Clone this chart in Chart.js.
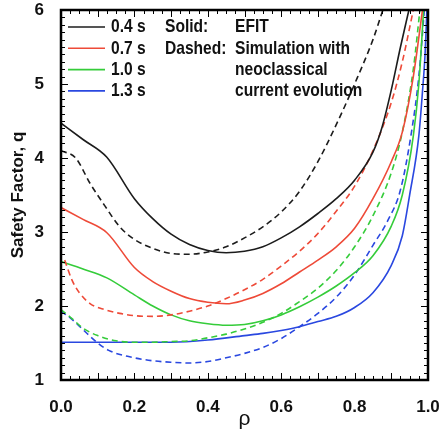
<!DOCTYPE html>
<html>
<head>
<meta charset="utf-8">
<script src="https://cdn.jsdelivr.net/npm/chart.js@4"></script>
<style>
  html, body { margin: 0; padding: 0; background: #fff; }
  canvas { display: block; }
</style>
</head>
<body>
<canvas id="chart" width="443" height="432"></canvas>
<script>
// Safety factor profiles q(rho): solid = EFIT, dashed = simulation
const rhoBlackSolid = [0, 0.06, 0.125, 0.2, 0.25, 0.3, 0.35, 0.4, 0.45, 0.5, 0.55, 0.6, 0.65, 0.7, 0.75, 0.8, 0.85, 0.875, 0.9, 0.925, 0.948];
const qBlackSolid   = [4.47, 4.25, 4.01, 3.45, 3.18, 2.97, 2.83, 2.75, 2.72, 2.74, 2.8, 2.92, 3.07, 3.25, 3.45, 3.7, 4.08, 4.42, 4.92, 5.5, 6.0];

const rhoBlackDashed = [0, 0.04, 0.08, 0.12, 0.16, 0.2, 0.25, 0.3, 0.35, 0.4, 0.45, 0.5, 0.55, 0.6, 0.65, 0.7, 0.75, 0.8, 0.85, 0.877];
const qBlackDashed   = [4.1, 4.0, 3.65, 3.35, 3.07, 2.9, 2.78, 2.71, 2.7, 2.73, 2.8, 2.92, 3.07, 3.27, 3.55, 3.95, 4.45, 5.0, 5.6, 6.0];

const rhoRedSolid = [0, 0.06, 0.125, 0.2, 0.25, 0.3, 0.35, 0.4, 0.45, 0.5, 0.55, 0.6, 0.65, 0.7, 0.75, 0.8, 0.85, 0.9, 0.93, 0.96, 0.985];
const qRedSolid   = [3.33, 3.17, 2.99, 2.52, 2.33, 2.2, 2.1, 2.05, 2.03, 2.08, 2.17, 2.3, 2.46, 2.62, 2.8, 3.05, 3.45, 3.95, 4.35, 5.1, 6.0];

const rhoRedDashed = [0.01, 0.03, 0.05, 0.08, 0.12, 0.16, 0.2, 0.25, 0.3, 0.35, 0.4, 0.45, 0.5, 0.55, 0.6, 0.65, 0.7, 0.75, 0.8, 0.85, 0.9, 0.93, 0.96];
const qRedDashed   = [2.62, 2.35, 2.18, 2.03, 1.95, 1.9, 1.87, 1.86, 1.88, 1.93, 2.0, 2.1, 2.22, 2.36, 2.54, 2.74, 2.98, 3.28, 3.62, 4.1, 4.75, 5.3, 6.0];

const rhoGreenSolid = [0, 0.06, 0.125, 0.2, 0.25, 0.3, 0.35, 0.4, 0.45, 0.5, 0.55, 0.6, 0.65, 0.7, 0.75, 0.8, 0.85, 0.9, 0.93, 0.96, 0.975, 0.988];
const qGreenSolid   = [2.6, 2.5, 2.38, 2.15, 2.0, 1.88, 1.8, 1.76, 1.74, 1.75, 1.8, 1.88, 1.99, 2.12, 2.27, 2.45, 2.68, 3.08, 3.5, 4.3, 5.0, 6.0];

const rhoGreenDashed = [0, 0.03, 0.06, 0.1, 0.15, 0.2, 0.25, 0.3, 0.35, 0.4, 0.45, 0.5, 0.55, 0.6, 0.65, 0.7, 0.75, 0.8, 0.85, 0.9, 0.93, 0.96, 0.978];
const qGreenDashed   = [1.95, 1.83, 1.7, 1.6, 1.53, 1.51, 1.51, 1.52, 1.53, 1.57, 1.62, 1.69, 1.78, 1.9, 2.06, 2.24, 2.48, 2.8, 3.22, 3.8, 4.35, 5.2, 6.0];

const rhoBlueSolid = [0, 0.1, 0.2, 0.3, 0.4, 0.5, 0.55, 0.6, 0.65, 0.7, 0.75, 0.8, 0.85, 0.9, 0.93, 0.95, 0.975, 0.985, 0.992, 0.997];
const qBlueSolid   = [1.51, 1.51, 1.51, 1.51, 1.54, 1.6, 1.63, 1.67, 1.72, 1.79, 1.86, 1.98, 2.18, 2.55, 2.95, 3.5, 4.3, 4.9, 5.4, 6.0];

const rhoBlueDashed = [0, 0.03, 0.06, 0.1, 0.13, 0.19, 0.25, 0.3, 0.35, 0.4, 0.45, 0.5, 0.55, 0.6, 0.65, 0.7, 0.75, 0.8, 0.85, 0.89, 0.925, 0.955, 0.975, 0.99];
const qBlueDashed   = [1.93, 1.82, 1.68, 1.5, 1.4, 1.31, 1.26, 1.24, 1.23, 1.25, 1.3, 1.36, 1.44, 1.56, 1.72, 1.9, 2.12, 2.42, 2.82, 3.15, 3.57, 4.35, 5.1, 6.0];

const timeLabels = ['0.4 s', '0.7 s', '1.0 s', '1.3 s'];
const noteKeys   = ['Solid:', 'Dashed:', '', ''];
const noteTexts  = ['EFIT', 'Simulation with', 'neoclassical', 'current evolution'];
const xTicks = [0, 0.2, 0.4, 0.6, 0.8, 1.0];
const yTicks = [1, 2, 3, 4, 5, 6];

const colors = ['#1c1c1c', '#ee4a38', '#35cc3a', '#2a48e0'];
const FONT = '"Liberation Sans", Arial, sans-serif';

// Zip two arrays into {x, y} points
function toPoints(rho, q) {
  return rho.map((r, i) => ({ x: r, y: q[i] }));
}

function line(rho, q, color, dashed) {
  return {
    data: toPoints(rho, q),
    borderColor: color,
    borderWidth: 1.6,
    borderDash: dashed ? [6, 4] : [],
    pointRadius: 0,
    cubicInterpolationMode: 'monotone',
    fill: false,
  };
}

// Box frame with inward ticks on all four sides
const frameTicks = {
  id: 'frameTicks',
  afterDraw(chart) {
    const { ctx, chartArea: a, scales: { x, y } } = chart;
    ctx.save();
    ctx.strokeStyle = '#000';
    ctx.lineWidth = 1;
    ctx.beginPath();
    for (let i = 0; i <= 40; i++) {
      const px = Math.round(x.getPixelForValue(i / 40)) + 0.5;
      const len = (i % 4 === 0) ? 7 : 4;
      ctx.moveTo(px, a.bottom); ctx.lineTo(px, a.bottom - len);
      ctx.moveTo(px, a.top); ctx.lineTo(px, a.top + len);
    }
    for (let i = 0; i <= 50; i++) {
      const py = Math.round(y.getPixelForValue(1 + i / 10)) + 0.5;
      const len = (i % 10 === 0) ? 7 : 4;
      ctx.moveTo(a.left, py); ctx.lineTo(a.left + len, py);
      ctx.moveTo(a.right, py); ctx.lineTo(a.right - len, py);
    }
    ctx.stroke();
    ctx.lineWidth = 2.5;
    ctx.strokeRect(a.left, a.top, a.right - a.left, a.bottom - a.top);
    ctx.restore();
  }
};

// Legend drawn inside the plot, top-left (text squeezed to look condensed)
const innerLegend = {
  id: 'innerLegend',
  afterDraw(chart) {
    const { ctx, chartArea: a } = chart;
    const squeeze = 0.82;
    ctx.save();
    ctx.font = 'bold 19px ' + FONT;
    ctx.fillStyle = '#111';
    ctx.textBaseline = 'middle';
    const x0 = a.left + 7;
    for (let i = 0; i < 4; i++) {
      const yy = a.top + 17 + i * 21.3;
      ctx.strokeStyle = colors[i];
      ctx.lineWidth = 1.6;
      ctx.beginPath();
      ctx.moveTo(x0, yy); ctx.lineTo(x0 + 37, yy);
      ctx.stroke();
      const cols = [[x0 + 43, timeLabels[i]], [a.left + 104, noteKeys[i]], [a.left + 174, noteTexts[i]]];
      cols.forEach(([tx, txt]) => {
        ctx.save();
        ctx.translate(tx, yy);
        ctx.scale(squeeze, 1);
        ctx.fillText(txt, 0, 0);
        ctx.restore();
      });
    }
    ctx.restore();
  }
};

const tickFont = { family: FONT, size: 17, weight: 'bold' };

new Chart(document.getElementById('chart'), {
  type: 'line',
  data: {
    datasets: [
      line(rhoBlackSolid, qBlackSolid, colors[0], false),
      line(rhoBlackDashed, qBlackDashed, colors[0], true),
      line(rhoRedSolid, qRedSolid, colors[1], false),
      line(rhoRedDashed, qRedDashed, colors[1], true),
      line(rhoGreenSolid, qGreenSolid, colors[2], false),
      line(rhoGreenDashed, qGreenDashed, colors[2], true),
      line(rhoBlueSolid, qBlueSolid, colors[3], false),
      line(rhoBlueDashed, qBlueDashed, colors[3], true),
    ]
  },
  options: {
    responsive: false,
    animation: false,
    devicePixelRatio: 1,
    layout: { padding: { top: 10, right: 15, left: 0, bottom: 0 } },
    plugins: { legend: { display: false }, tooltip: { enabled: false } },
    scales: {
      x: {
        type: 'linear',
        min: 0, max: 1,
        afterBuildTicks: (s) => { s.ticks = xTicks.map(v => ({ value: v })); },
        afterFit: (s) => { s.height = 52; s.paddingLeft = 0; s.paddingRight = 0; },
        grid: { display: false },
        border: { display: false },
        ticks: { font: tickFont, color: '#111', padding: 9, maxRotation: 0, callback: (v) => v.toFixed(1) },
        title: { display: true, text: 'ρ', font: { family: FONT, size: 21 }, color: '#111', padding: { top: 0, bottom: 0 } }
      },
      y: {
        type: 'linear',
        min: 1, max: 6,
        afterBuildTicks: (s) => { s.ticks = yTicks.map(v => ({ value: v })); },
        afterFit: (s) => { s.width = 61; s.paddingTop = 0; s.paddingBottom = 0; },
        grid: { display: false },
        border: { display: false },
        ticks: { font: tickFont, color: '#111', padding: 9, callback: (v) => String(v) },
        title: { display: true, text: 'Safety Factor, q', font: { family: FONT, size: 17, weight: 'bold' }, color: '#111', padding: { top: 8, bottom: 0 } }
      }
    }
  },
  plugins: [frameTicks, innerLegend]
});
</script>
</body>
</html>
